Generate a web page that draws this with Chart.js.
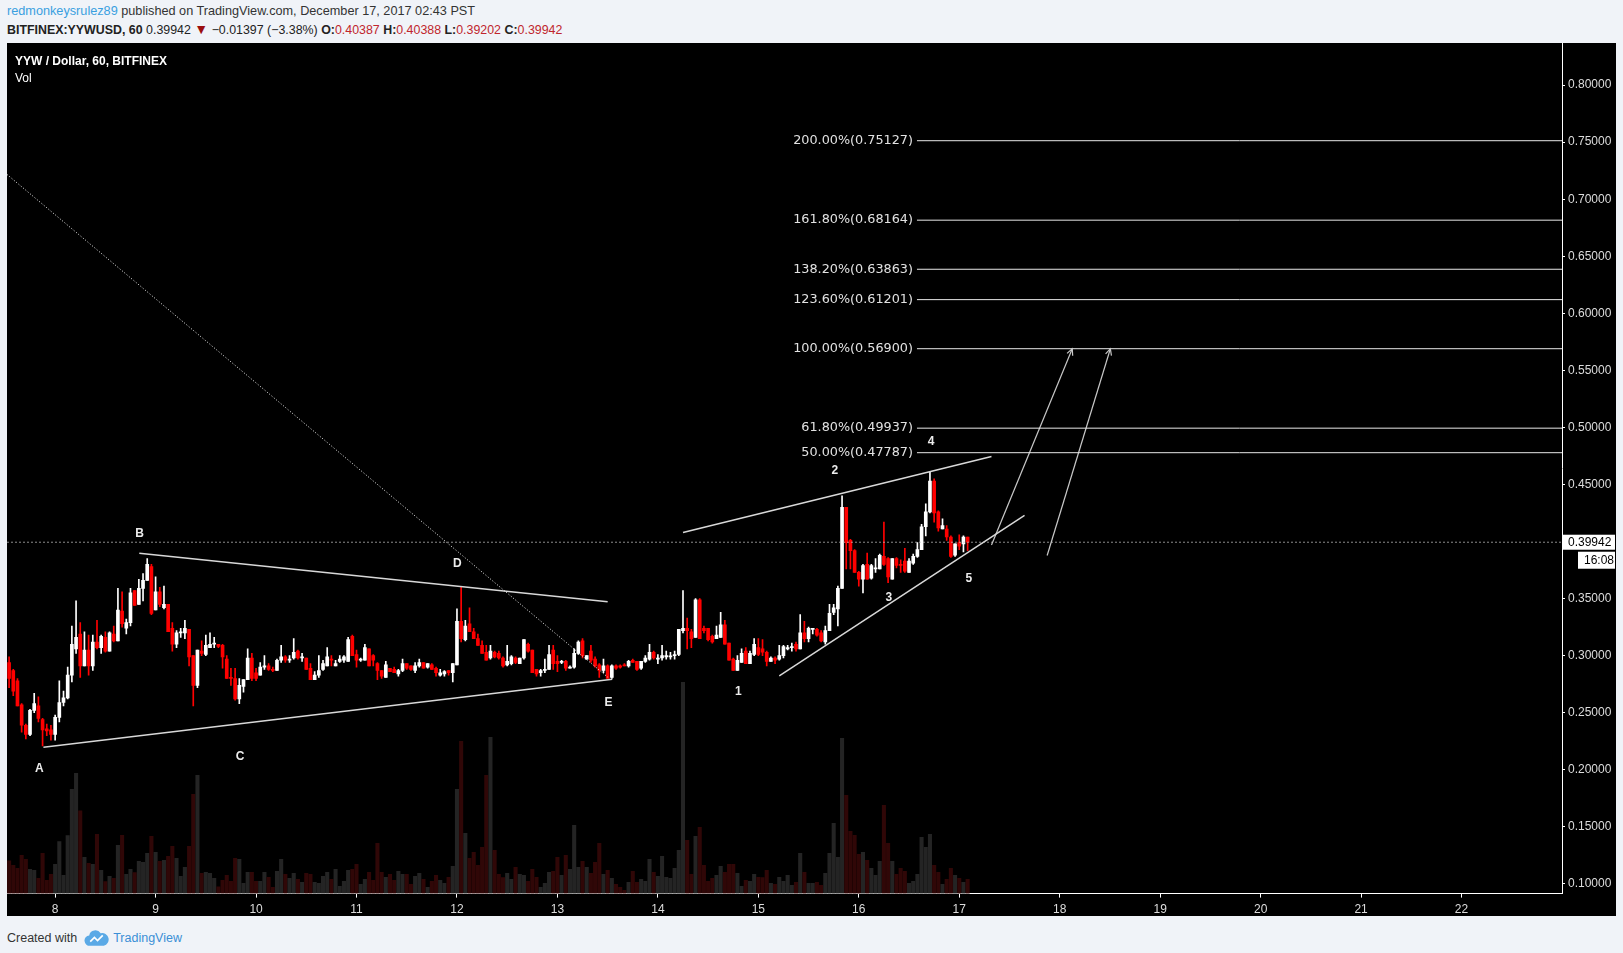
<!DOCTYPE html>
<html>
<head>
<meta charset="utf-8">
<title>YYW / Dollar, 60, BITFINEX</title>
<script src="https://cdn.jsdelivr.net/npm/chart.js@4.4.1/dist/chart.umd.min.js"></script>
<style>
  body { margin: 0; width: 1623px; height: 953px; overflow: hidden; background: #f0f3f8;
         font-family: "Liberation Sans", Arial, sans-serif; position: relative; }
  .hdr1 { position: absolute; left: 7px; top: 4px; font-size: 12.7px; color: #333; white-space: nowrap; }
  .hdr1 .user { color: #3aa0e0; }
  .hdr2 { position: absolute; left: 7px; top: 23px; font-size: 12.4px; color: #222; white-space: nowrap; }
  .hdr2 .red { color: #c0262d; }
  .hdr2 .tri { color: #9b0f0f; font-size: 14px; line-height: 12px; }
  #panel { position: absolute; left: 7px; top: 43px; width: 1609px; height: 873px; background: #000; }
  #panel canvas { position: absolute; left: 0; top: 0; }
  .legend { position: absolute; left: 8px; top: 10px; color: #fff; font-size: 12px; line-height: 16.5px; }
  .footer { position: absolute; left: 7px; top: 930px; font-size: 12.5px; color: #333; white-space: nowrap; }
  .footer svg { vertical-align: -5px; margin: 0 4px 0 7px; }
  .footer .tv { color: #3b8fd6; }
</style>
</head>
<body>
<div class="hdr1"><span class="user">redmonkeysrulez89</span> published on TradingView.com, December 17, 2017 02:43 PST</div>
<div class="hdr2"><b>BITFINEX:YYWUSD, 60</b> 0.39942 <span class="tri">&#9660;</span> &minus;0.01397 (&minus;3.38%) <b>O:</b><span class="red">0.40387</span> <b>H:</b><span class="red">0.40388</span> <b>L:</b><span class="red">0.39202</span> <b>C:</b><span class="red">0.39942</span></div>

<div id="panel">
  <canvas id="chart" width="1609" height="873"></canvas>
  <div class="legend"><b>YYW / Dollar, 60, BITFINEX</b><br>Vol</div>
</div>

<div class="footer">Created with<svg width="25" height="17" viewBox="0 0 24 16"><path d="M6 15 A5 5 0 0 1 5 5 A6 6 0 0 1 16 3 A5 5 0 0 1 19 15 Z" fill="#5aa9e6"/><path d="M6 11 L10 7 L13 10 L18 5" stroke="#fff" stroke-width="1.6" fill="none"/></svg><span class="tv">TradingView</span></div>

<script>
// hourly candles, first one at Dec 7 13:00 (hour -11 from Dec 8 00:00)
var firstHour = -11;

var openP = [
  0.294,0.287,0.278,0.257,0.239,0.231,0.252,0.256,0.244,0.236,
  0.235,0.231,0.246,0.259,0.263,0.283,0.306,0.319,0.291,0.305,
  0.291,0.312,0.307,0.316,0.304,0.319,0.313,0.339,0.324,0.329,
  0.357,0.345,0.359,0.366,0.378,0.340,0.356,0.342,0.345,0.324,
  0.310,0.320,0.320,0.323,0.300,0.274,0.304,0.301,0.307,0.310,
  0.310,0.309,0.297,0.281,0.280,0.262,0.273,0.279,0.298,0.285,
  0.283,0.290,0.291,0.288,0.287,0.296,0.299,0.296,0.298,0.304,
  0.298,0.298,0.289,0.279,0.283,0.288,0.291,0.297,0.291,0.295,
  0.296,0.295,0.317,0.301,0.296,0.296,0.306,0.300,0.293,0.287,
  0.281,0.289,0.288,0.284,0.287,0.293,0.291,0.287,0.291,0.294,
  0.290,0.292,0.289,0.283,0.284,0.287,0.285,0.292,0.330,0.314,
  0.328,0.321,0.315,0.309,0.303,0.298,0.303,0.302,0.298,0.292,
  0.293,0.298,0.293,0.298,0.310,0.305,0.288,0.285,0.287,0.288,
  0.305,0.295,0.294,0.295,0.289,0.290,0.302,0.313,0.297,0.304,
  0.297,0.292,0.287,0.291,0.281,0.291,0.291,0.292,0.291,0.296,
  0.295,0.289,0.295,0.297,0.303,0.297,0.298,0.299,0.299,0.300,
  0.301,0.322,0.324,0.321,0.316,0.349,0.324,0.324,0.317,0.315,
  0.316,0.327,0.311,0.297,0.287,0.294,0.304,0.293,0.301,0.307,
  0.306,0.303,0.295,0.298,0.297,0.300,0.306,0.307,0.310,0.306,
  0.320,0.315,0.323,0.323,0.320,0.312,0.322,0.338,0.341,0.359,
  0.430,0.401,0.392,0.373,0.367,0.380,0.368,0.376,0.376,0.387,
  0.385,0.367,0.385,0.380,0.383,0.373,0.381,0.387,0.393,0.413,
  0.426,0.453,0.426,0.411,0.411,0.404,0.388,0.399,0.398,0.40387
];
var highP = [
  0.299,0.288,0.280,0.258,0.240,0.253,0.267,0.264,0.245,0.240,
  0.239,0.248,0.278,0.269,0.290,0.326,0.348,0.329,0.321,0.318,
  0.318,0.331,0.318,0.321,0.321,0.326,0.359,0.356,0.332,0.359,
  0.357,0.367,0.372,0.385,0.380,0.369,0.360,0.361,0.345,0.329,
  0.322,0.324,0.331,0.323,0.300,0.305,0.313,0.318,0.320,0.316,
  0.310,0.310,0.300,0.289,0.289,0.280,0.279,0.306,0.302,0.289,
  0.294,0.300,0.293,0.290,0.297,0.309,0.300,0.300,0.315,0.305,
  0.302,0.298,0.293,0.286,0.300,0.296,0.307,0.300,0.296,0.300,
  0.300,0.316,0.318,0.305,0.298,0.310,0.306,0.301,0.294,0.287,
  0.295,0.289,0.290,0.288,0.297,0.293,0.291,0.294,0.297,0.294,
  0.293,0.293,0.290,0.288,0.287,0.287,0.293,0.341,0.360,0.331,
  0.342,0.324,0.319,0.313,0.309,0.309,0.304,0.304,0.299,0.309,
  0.300,0.299,0.298,0.314,0.311,0.305,0.288,0.288,0.297,0.309,
  0.309,0.300,0.296,0.296,0.291,0.306,0.313,0.315,0.300,0.309,
  0.299,0.293,0.297,0.292,0.292,0.292,0.292,0.293,0.296,0.297,
  0.295,0.295,0.300,0.310,0.304,0.301,0.309,0.304,0.303,0.304,
  0.323,0.357,0.333,0.323,0.350,0.350,0.326,0.324,0.318,0.326,
  0.338,0.331,0.311,0.298,0.300,0.306,0.307,0.304,0.315,0.315,
  0.314,0.304,0.299,0.299,0.309,0.309,0.309,0.311,0.312,0.336,
  0.330,0.325,0.324,0.324,0.322,0.326,0.345,0.345,0.361,0.440,
  0.430,0.402,0.393,0.374,0.380,0.390,0.380,0.385,0.389,0.417,
  0.386,0.385,0.386,0.384,0.394,0.385,0.389,0.399,0.415,0.433,
  0.461,0.455,0.427,0.420,0.414,0.405,0.398,0.406,0.405,0.40388
];
var lowP = [
  0.272,0.265,0.256,0.233,0.227,0.230,0.250,0.242,0.221,0.230,
  0.226,0.226,0.242,0.256,0.262,0.277,0.302,0.281,0.291,0.283,
  0.287,0.306,0.302,0.303,0.304,0.312,0.313,0.325,0.319,0.326,
  0.344,0.345,0.348,0.366,0.336,0.340,0.343,0.341,0.321,0.304,
  0.307,0.316,0.315,0.291,0.256,0.272,0.300,0.300,0.307,0.307,
  0.307,0.289,0.280,0.274,0.261,0.258,0.268,0.279,0.278,0.278,
  0.283,0.288,0.287,0.286,0.287,0.294,0.294,0.294,0.297,0.297,
  0.295,0.288,0.279,0.279,0.281,0.287,0.291,0.291,0.291,0.294,
  0.294,0.295,0.300,0.290,0.295,0.296,0.291,0.291,0.279,0.280,
  0.281,0.286,0.285,0.282,0.286,0.288,0.287,0.285,0.290,0.289,
  0.289,0.288,0.282,0.282,0.282,0.283,0.277,0.292,0.312,0.313,
  0.321,0.315,0.309,0.302,0.296,0.297,0.298,0.297,0.290,0.291,
  0.292,0.293,0.293,0.297,0.303,0.285,0.282,0.282,0.285,0.288,
  0.288,0.286,0.293,0.287,0.289,0.289,0.301,0.298,0.297,0.294,
  0.290,0.281,0.285,0.280,0.280,0.288,0.289,0.291,0.290,0.294,
  0.287,0.288,0.294,0.296,0.297,0.293,0.296,0.297,0.297,0.297,
  0.300,0.320,0.306,0.307,0.316,0.315,0.320,0.313,0.311,0.315,
  0.316,0.310,0.296,0.287,0.287,0.294,0.293,0.293,0.300,0.300,
  0.300,0.291,0.295,0.293,0.296,0.298,0.305,0.304,0.304,0.306,
  0.312,0.312,0.319,0.317,0.312,0.310,0.322,0.336,0.326,0.359,
  0.376,0.376,0.373,0.361,0.355,0.367,0.367,0.373,0.376,0.379,
  0.364,0.367,0.377,0.373,0.373,0.373,0.380,0.386,0.393,0.405,
  0.425,0.417,0.409,0.411,0.401,0.386,0.387,0.393,0.391,0.39202
];
var closeP = [
  0.280,0.269,0.256,0.239,0.231,0.252,0.258,0.245,0.235,0.234,
  0.231,0.246,0.259,0.263,0.283,0.310,0.316,0.291,0.305,0.291,
  0.312,0.307,0.317,0.304,0.320,0.313,0.340,0.328,0.329,0.355,
  0.344,0.359,0.366,0.380,0.337,0.356,0.345,0.345,0.321,0.310,
  0.320,0.321,0.324,0.299,0.274,0.305,0.302,0.309,0.310,0.311,
  0.308,0.299,0.280,0.280,0.262,0.274,0.279,0.298,0.280,0.280,
  0.290,0.291,0.288,0.287,0.296,0.299,0.296,0.297,0.303,0.298,
  0.299,0.288,0.279,0.283,0.287,0.293,0.299,0.296,0.293,0.297,
  0.299,0.314,0.300,0.296,0.297,0.307,0.291,0.296,0.287,0.282,
  0.292,0.286,0.285,0.287,0.293,0.289,0.288,0.291,0.294,0.289,
  0.293,0.288,0.285,0.285,0.286,0.285,0.293,0.330,0.315,0.326,
  0.321,0.315,0.309,0.302,0.296,0.304,0.299,0.298,0.291,0.295,
  0.299,0.294,0.298,0.314,0.304,0.285,0.284,0.287,0.288,0.301,
  0.293,0.293,0.295,0.289,0.290,0.302,0.312,0.300,0.300,0.296,
  0.291,0.287,0.291,0.280,0.291,0.289,0.290,0.291,0.295,0.294,
  0.288,0.295,0.298,0.303,0.298,0.298,0.300,0.300,0.299,0.301,
  0.323,0.324,0.322,0.315,0.349,0.315,0.322,0.314,0.312,0.318,
  0.327,0.310,0.296,0.287,0.296,0.302,0.293,0.302,0.310,0.301,
  0.303,0.295,0.298,0.296,0.300,0.308,0.307,0.308,0.306,0.320,
  0.315,0.324,0.324,0.318,0.313,0.322,0.337,0.342,0.359,0.430,
  0.399,0.392,0.373,0.367,0.379,0.367,0.379,0.377,0.388,0.380,
  0.369,0.385,0.379,0.379,0.374,0.383,0.387,0.393,0.413,0.426,
  0.453,0.425,0.412,0.414,0.404,0.387,0.398,0.396,0.404,0.39942
];
// volume, arbitrary units (read as bar heights)
var volume = [
  98,85,76,115,103,73,70,46,121,40,
  58,88,156,55,174,313,361,248,109,91,
  88,178,70,36,52,46,145,175,58,73,
  63,97,94,121,172,124,97,100,112,142,
  106,52,79,142,298,355,61,64,61,46,
  20,40,55,37,106,103,31,64,64,37,
  37,64,49,19,67,103,58,46,61,43,
  34,61,58,34,31,52,64,43,73,22,
  37,70,73,88,28,43,64,40,151,64,
  49,58,40,67,58,58,28,52,61,43,
  19,37,55,40,31,49,82,313,457,181,
  106,124,85,139,355,469,130,58,48,61,
  43,79,58,55,37,73,49,19,31,64,
  67,109,55,115,73,205,79,97,79,61,
  94,151,58,70,46,28,19,10,34,67,
  34,43,37,103,64,52,112,49,46,76,
  130,634,160,58,172,199,85,37,46,55,
  82,64,88,88,61,22,40,37,58,49,
  48,70,31,28,49,37,55,25,34,121,
  64,31,31,34,25,61,121,211,109,466,
  295,187,175,118,124,100,76,55,97,265,
  151,97,58,76,67,31,37,58,169,139,
  178,85,64,28,43,76,55,46,34,43
];

var dayLabels = ['8','9','10','11','12','13','14','15','16','17','18','19','20','21','22'];
var priceTicks = [0.10,0.15,0.20,0.25,0.30,0.35,0.40,0.45,0.50,0.55,0.60,0.65,0.70,0.75,0.80];

var lastPrice = 0.39942;
var barCountdown = '16:08';

var fibPcts = ['200.00%','161.80%','138.20%','123.60%','100.00%','61.80%','50.00%'];
var fibLevels = [0.75127,0.68164,0.63863,0.61201,0.56900,0.49937,0.47787];
var fibStart = 205.9;

// drawings: [hour, price] pairs
var lineBC = [[20.1,0.3898],[132.0,0.3472]];
var lineAE = [[-2.8,0.2198],[133.1,0.2794]];
var lineDiag = [[-11.5,0.7217],[132.1,0.2809]];
var wedgeTop = [[150.0,0.4079],[223.7,0.4745]];
var wedgeBot = [[173.0,0.2823],[231.6,0.4230]];
var arrow1 = [[223.7,0.3969],[243.0,0.5690]];
var arrow2 = [[237.0,0.3878],[252.1,0.5690]];

var waveNames = ['A','B','C','D','E','1','2','3','4','5'];
var waveX = [-3.8,20.2,44.2,96.1,132.2,163.2,186.3,199.2,209.3,218.3];
var waveY = [0.2011,0.4070,0.2119,0.3810,0.2586,0.2683,0.4619,0.3510,0.4876,0.3676];

var xMin = -11.5, xMax = 360, yMin = 0.0915, yMax = 0.8369;

var up = openP.map(function (o, i) { return closeP[i] >= o; });
var hours = openP.map(function (o, i) { return firstHour + i; });

function seg(pts) { return pts.map(function (p) { return { x: p[0], y: p[1] }; }); }
function lineDs(pts, color, width, dash) {
    return { type: 'line', data: seg(pts), borderColor: color, borderWidth: width,
             borderDash: dash || [], pointRadius: 0, order: 1, yAxisID: 'y' };
}

var datasets = [];
datasets.push({
    data: hours.map(function (h, i) { return { x: h, y: [0, volume[i]] }; }),
    backgroundColor: up.map(function (u) { return u ? '#242424' : '#300707'; }),
    barThickness: 3.4, grouped: false, yAxisID: 'y2', order: 10
});
datasets.push({
    data: hours.map(function (h, i) { return { x: h, y: [lowP[i], highP[i]] }; }),
    backgroundColor: up.map(function (u) { return u ? '#ffffff' : '#ff0000'; }),
    barThickness: 1, grouped: false, yAxisID: 'y', order: 6
});
datasets.push({
    data: hours.map(function (h, i) { return { x: h, y: [openP[i], closeP[i]] }; }),
    backgroundColor: up.map(function (u) { return u ? '#ffffff' : '#ff0000'; }),
    barThickness: 3, minBarLength: 1, grouped: false, yAxisID: 'y', order: 5
});

// fibonacci levels
fibLevels.forEach(function (lv) {
    datasets.push(lineDs([[fibStart, lv], [xMax, lv]], '#e8e8e8', 1));
});
datasets.push(lineDs([[xMin, lastPrice], [xMax, lastPrice]], 'rgba(200,200,200,0.7)', 1, [2, 2]));
datasets.push(lineDs(lineDiag, '#f0f0f0', 1, [1, 2]));
[lineBC, lineAE, wedgeTop, wedgeBot].forEach(function (l) {
    datasets.push(lineDs(l, '#d8d8d8', 1.5));
});
[arrow1, arrow2].forEach(function (l) {
    datasets.push(lineDs(l, '#c8c8c8', 1.2));
});

var overlay = {
    id: 'overlay',
    afterDatasetsDraw: function (chart) {
        var ctx = chart.ctx, x = chart.scales.x, y = chart.scales.y;
        ctx.save();
        // fib texts
        ctx.font = '12.8px "DejaVu Sans"';
        ctx.fillStyle = '#e2e2e2';
        ctx.textAlign = 'right';
        ctx.textBaseline = 'middle';
        fibLevels.forEach(function (lv, i) {
            ctx.fillText(fibPcts[i] + '(' + lv.toFixed(5) + ')',
                x.getPixelForValue(fibStart) - 4, y.getPixelForValue(lv));
        });
        // wave labels
        ctx.font = 'bold 12px "Liberation Sans"';
        ctx.fillStyle = '#ececec';
        ctx.textAlign = 'center';
        waveNames.forEach(function (n, i) {
            ctx.fillText(n, x.getPixelForValue(waveX[i]), y.getPixelForValue(waveY[i]));
        });
        // arrow heads
        ctx.strokeStyle = '#c8c8c8';
        ctx.lineWidth = 1.2;
        [arrow1, arrow2].forEach(function (a) {
            var x1 = x.getPixelForValue(a[0][0]), y1 = y.getPixelForValue(a[0][1]);
            var x2 = x.getPixelForValue(a[1][0]), y2 = y.getPixelForValue(a[1][1]);
            var ang = Math.atan2(y2 - y1, x2 - x1);
            ctx.beginPath();
            ctx.moveTo(x2 - 7 * Math.cos(ang - 0.45), y2 - 7 * Math.sin(ang - 0.45));
            ctx.lineTo(x2, y2);
            ctx.lineTo(x2 - 7 * Math.cos(ang + 0.45), y2 - 7 * Math.sin(ang + 0.45));
            ctx.stroke();
        });
        ctx.restore();
    },
    afterDraw: function (chart) {
        var ctx = chart.ctx, y = chart.scales.y, area = chart.chartArea;
        var py = y.getPixelForValue(lastPrice);
        ctx.save();
        ctx.fillStyle = '#ffffff';
        ctx.fillRect(area.right, py - 7.5, chart.width - area.right - 1, 15);
        ctx.fillRect(area.right + 16, py + 9.5, chart.width - area.right - 17, 17);
        ctx.fillStyle = '#000';
        ctx.font = '12px "Liberation Sans"';
        ctx.textBaseline = 'middle';
        ctx.textAlign = 'left';
        ctx.fillText(lastPrice.toFixed(5), area.right + 6, py);
        ctx.fillText(barCountdown, area.right + 22, py + 18);
        ctx.restore();
    }
};

new Chart(document.getElementById('chart'), {
    type: 'bar',
    data: { datasets: datasets },
    options: {
        responsive: false,
        animation: false,
        events: [],
        layout: { padding: 0, autoPadding: false },
        plugins: { legend: { display: false }, tooltip: { enabled: false } },
        scales: {
            x: {
                type: 'linear', min: xMin, max: xMax, offset: false,
                grid: { drawOnChartArea: false, drawTicks: true, tickLength: 4, tickColor: '#ffffff', offset: false },
                border: { display: true, color: '#ffffff', width: 1 },
                ticks: {
                    color: '#dcdcdc', font: { family: 'Liberation Sans', size: 12 }, padding: 5,
                    autoSkip: false, maxRotation: 0,
                    callback: function (v) { return dayLabels[Math.round(v / 24)]; }
                },
                afterBuildTicks: function (s) { s.ticks = dayLabels.map(function (d, i) { return { value: i * 24 }; }); },
                afterFit: function (s) { s.height = 22.4; s.paddingLeft = 0; s.paddingRight = 0; }
            },
            y: {
                type: 'linear', position: 'right', min: yMin, max: yMax,
                grid: { drawOnChartArea: false, drawTicks: true, tickLength: 3, tickColor: '#ffffff' },
                border: { display: true, color: '#ffffff', width: 1 },
                ticks: {
                    color: '#dcdcdc', font: { family: 'Liberation Sans', size: 12 }, padding: 3,
                    callback: function (v) { return v.toFixed(5); }
                },
                afterBuildTicks: function (s) { s.ticks = priceTicks.map(function (p) { return { value: p }; }); },
                afterFit: function (s) { s.width = 54; s.paddingTop = 0; s.paddingBottom = 0; }
            },
            y2: { type: 'linear', display: false, min: 0, max: 2552 }
        }
    },
    plugins: [overlay]
});
</script>
</body>
</html>
